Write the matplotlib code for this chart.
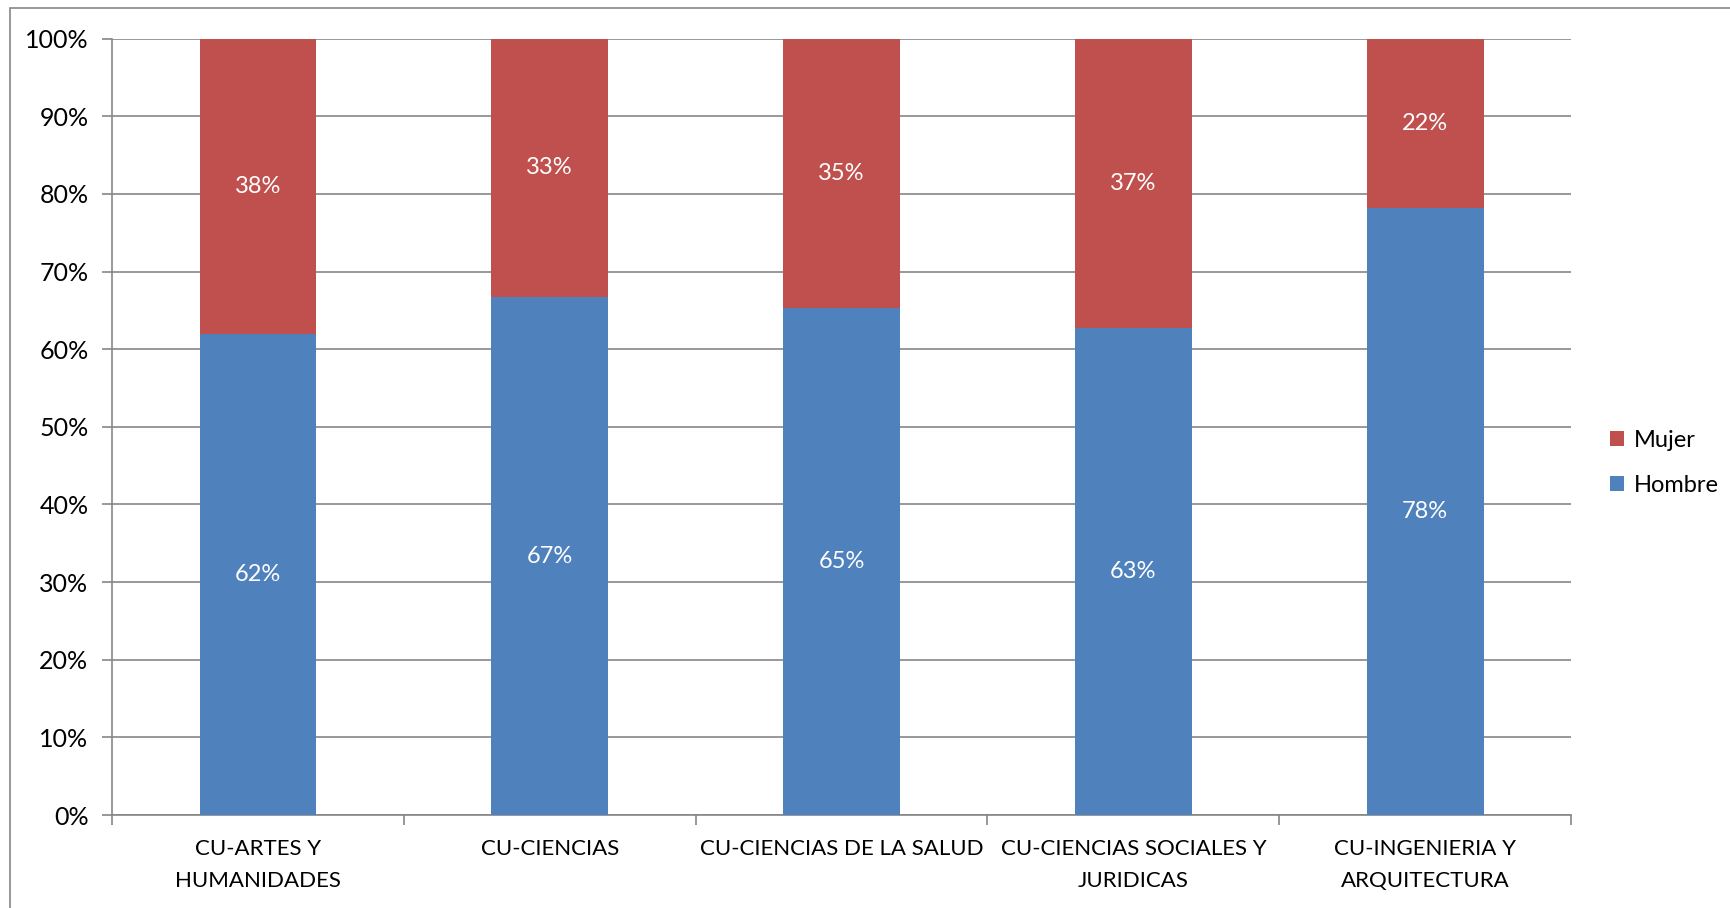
import numpy as np
import matplotlib
matplotlib.use('Agg')
import matplotlib.pyplot as plt
from matplotlib.patches import Rectangle

plt.rcParams['font.family'] = ['Lato', 'DejaVu Sans']

categories = ['CU-ARTES Y\nHUMANIDADES', 'CU-CIENCIAS', 'CU-CIENCIAS DE LA SALUD',
              'CU-CIENCIAS SOCIALES Y\nJURIDICAS', 'CU-INGENIERIA Y\nARQUITECTURA']
hombre = [61.9, 66.7, 65.3, 62.7, 78.2]
mujer = [38.1, 33.3, 34.7, 37.3, 21.8]

blue = '#4F81BD'
red = '#C0504D'
grid_c = '#868686'

fig = plt.figure(figsize=(17.31, 9.08), dpi=100)
ax = fig.add_axes([0.0647, 0.1024, 0.9076 - 0.0647, 0.9575 - 0.1024])

x = np.arange(len(categories))
b1 = ax.bar(x, hombre, width=0.4, color=blue, zorder=3, label='Hombre')
b2 = ax.bar(x, mujer, width=0.4, bottom=hombre, color=red, zorder=3, label='Mujer')

for i in range(len(x)):
    ax.text(x[i], hombre[i] / 2, f'{round(hombre[i])}%', ha='center', va='center',
            color='white', fontsize=17, zorder=4)
    ax.text(x[i], hombre[i] + mujer[i] / 2, f'{round(mujer[i])}%', ha='center', va='center',
            color='white', fontsize=17, zorder=4)

ax.set_xlim(-0.5, len(x) - 0.5)
ax.set_ylim(0, 100)
ax.set_yticks(np.arange(0, 101, 10))
ax.set_yticklabels([f'{v}%' for v in range(0, 101, 10)], fontsize=18)
ax.set_xticks(x)
ax.set_xticklabels(categories, fontsize=16, linespacing=1.75)
ax.set_xticks(np.arange(-0.5, len(x), 1), minor=True)
ax.tick_params(axis='x', which='major', length=0, pad=17)
ax.tick_params(axis='x', which='minor', length=7, color=grid_c, width=1.2)
ax.tick_params(axis='y', length=7, color=grid_c, width=1.2, pad=10)

ax.grid(axis='y', color=grid_c, linewidth=1.2, zorder=0)
for s in ['top', 'right']:
    ax.spines[s].set_visible(False)
for s in ['left', 'bottom']:
    ax.spines[s].set_color(grid_c)
    ax.spines[s].set_linewidth(1.2)

handles = [b2, b1]
fig.legend(handles, ['Mujer', 'Hombre'], loc='center left', bbox_to_anchor=(0.918, 0.49),
           frameon=False, fontsize=17, handlelength=0.6, handleheight=0.6,
           handletextpad=0.4, labelspacing=1.0)

fig.patches.append(Rectangle((10 / 1731, -0.01), 1.05, 1 - 8 / 908 + 0.01,
                             transform=fig.transFigure, fill=False,
                             edgecolor=grid_c, linewidth=1.2))

fig.savefig('out.png', dpi=100)
